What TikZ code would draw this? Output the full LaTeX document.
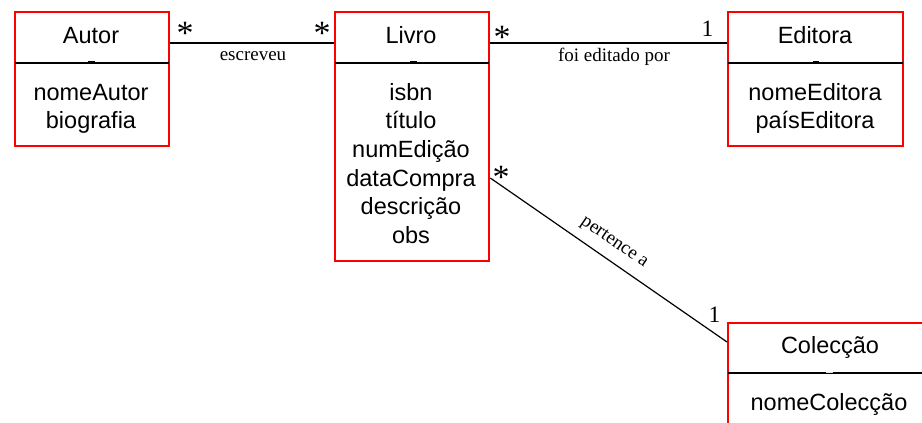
\documentclass[tikz,border=0pt]{standalone}
\usepackage{fontspec}
\setmainfont{Liberation Serif}
\newfontfamily\clsfont{Liberation Sans}
\usetikzlibrary{calc}
\tikzset{
  classbox/.style={draw=red, line width=2.3pt, inner sep=0pt, anchor=north west},
  sepline/.style={black, line width=2.2pt},
  tick/.style={black, line width=1.4pt},
  clstext/.style={font=\clsfont\fontsize{23.5}{28}\selectfont, inner sep=0pt, anchor=base},
  assoc/.style={black, line width=2pt},
  assocthin/.style={black, line width=1.2pt},
  lbl/.style={font=\fontsize{19}{22}\selectfont, inner sep=0pt, anchor=base},
  mult/.style={font=\fontsize{23.5}{26}\selectfont, inner sep=0pt, anchor=base},
  star/.style={font=\fontsize{34}{36}\selectfont, inner sep=0pt, anchor=base}
}
\begin{document}
\begin{tikzpicture}[x=1pt, y=-1pt]
\useasboundingbox (0,0) rectangle (922,423);
\clip (0,0) rectangle (922,423);
% class boxes
\node[classbox, minimum width=154pt, minimum height=134pt] (autor) at (14,11) {};
\node[classbox, minimum width=154pt, minimum height=249pt] (livro) at (334,11) {};
\node[classbox, minimum width=175pt, minimum height=134pt] (editora) at (727,11) {};
\node[classbox, minimum width=206pt, minimum height=134pt] (coleccao) at (727,322) {};
% separators
\foreach \b in {autor,livro,editora}{
  \draw[sepline] ($(\b.north west)+(1.15,52)$) -- ($(\b.north east)+(-1.15,52)$);
}
\draw[sepline] ($(coleccao.north west)+(1.15,51)$) -- ($(coleccao.north east)+(-1.15,51)$);
% small marks above separators
\draw[tick] (88,61.3) -- (95,61.3);
\draw[tick] (410,61.3) -- (417,61.3);
\draw[tick] (813,61.3) -- (819,61.3);
\draw[tick, black!12] (826,372.3) -- (833,372.3);
% class names
\node[clstext] (tAutor) at (91,43) {Autor};
\node[clstext] (tLivro) at (411,43) {Livro};
\node[clstext] (tEditora) at (815,43) {Editora};
\node[clstext] (tColeccao) at (830,353) {Colecção};
% attributes
\foreach \t [count=\i] in {nomeAutor,biografia}
  \node[clstext] (autor-a\i) at (91,{100+28.7*(\i-1)}) {\t};
\foreach \t [count=\i] in {isbn,título,numEdição,dataCompra,descrição,obs}
  \node[clstext] (livro-a\i) at (411,{100+28.7*(\i-1)}) {\t};
\foreach \t [count=\i] in {nomeEditora,paísEditora}
  \node[clstext] (editora-a\i) at (815,{100+28.7*(\i-1)}) {\t};
\node[clstext] (coleccao-a1) at (829,410) {nomeColecção};
% associations
\draw[assoc] ($(autor.north east)+(0,32)$) coordinate (a1)
  -- ($(livro.north west)+(0,32)$) coordinate (a2);
\draw[assoc] ($(livro.north east)+(0,32)$) coordinate (b1)
  -- ($(editora.north west)+(0,32)$) coordinate (b2);
\draw[assocthin] ($(livro.north east)+(0,167)$) coordinate (c1)
  -- ($(coleccao.north west)+(0,20)$) coordinate (c2);
% association labels
\node[lbl] (lEscreveu) at (253,60) {escreveu};
\node[lbl] (lEditado) at (614,61) {foi editado por};
\node[lbl, anchor=center, rotate=-34.5] (lPertence) at (614,243) {pertence a};
% multiplicities
\node[star] (m1) at (185,45) {*};
\node[star] (m2) at (322,45) {*};
\node[star] (m3) at (502,48) {*};
\node[mult] (m4) at (707.5,36) {1};
\node[star] (m5) at (501,188) {*};
\node[mult] (m6) at (714.5,322) {1};
\end{tikzpicture}
\end{document}
